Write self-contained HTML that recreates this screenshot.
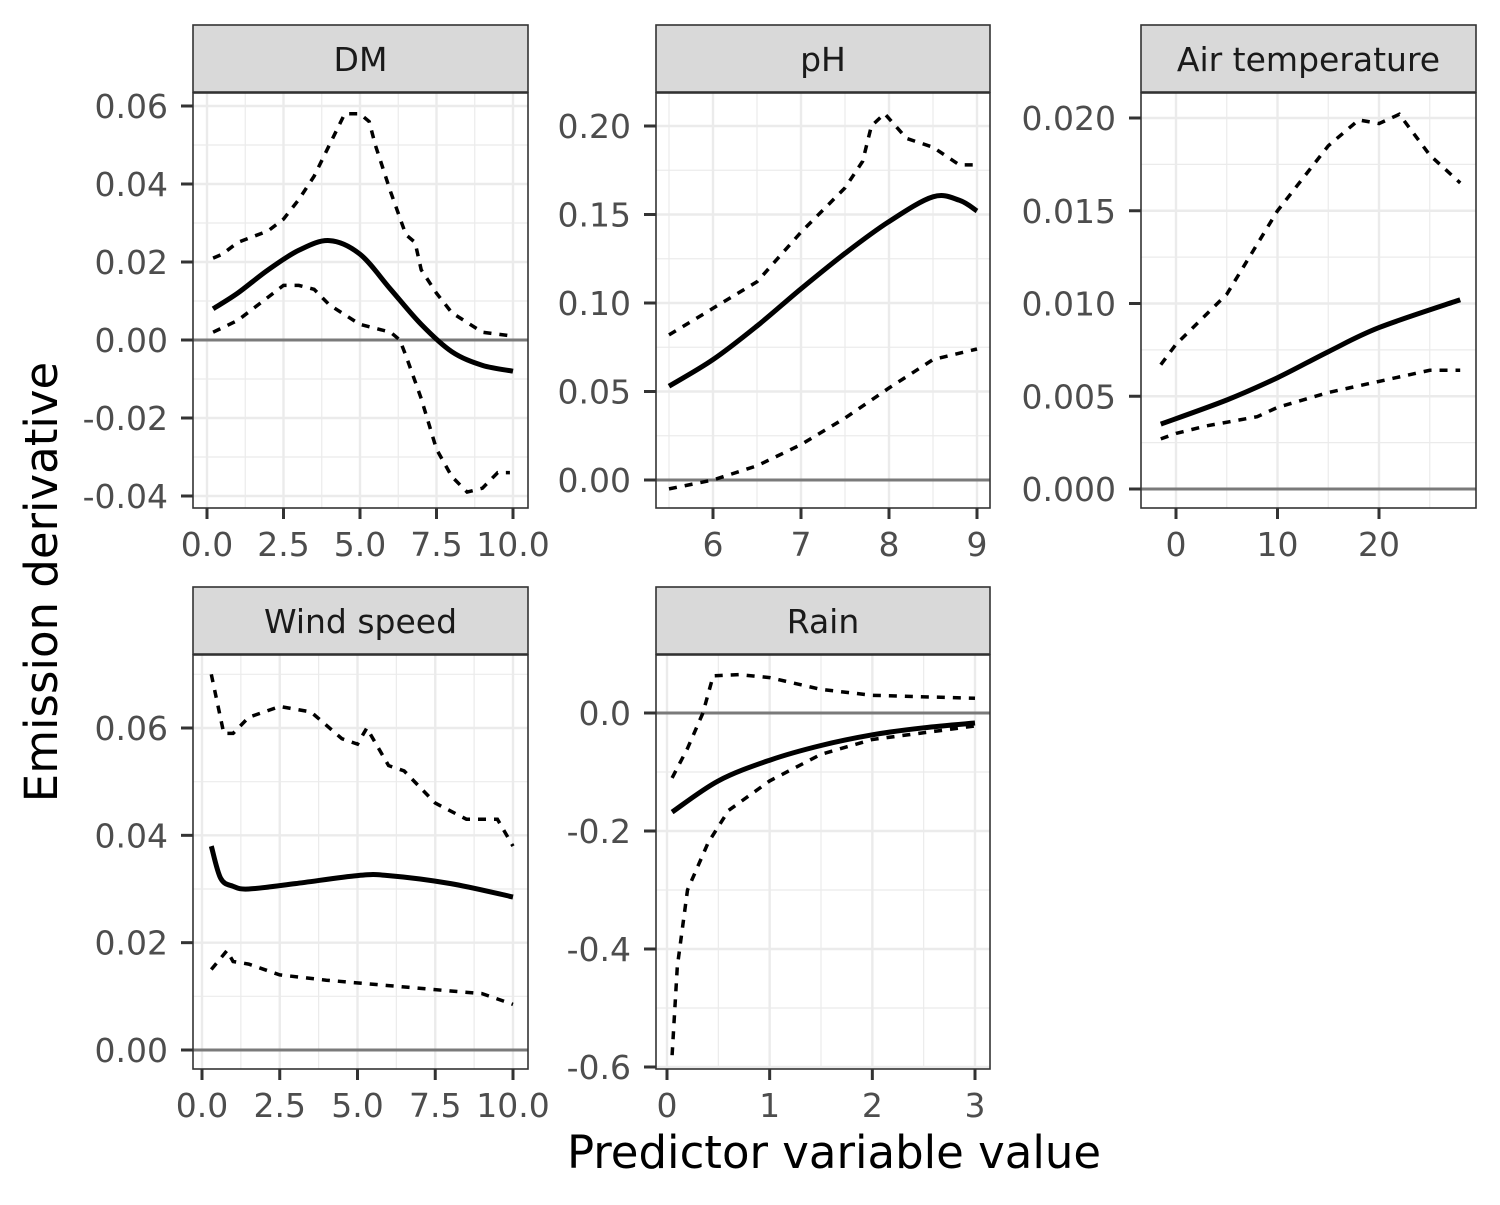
<!DOCTYPE html>
<html><head><meta charset="utf-8"><style>
body{margin:0;background:#fff;}
svg text{font-family:"DejaVu Sans","Liberation Sans",sans-serif;}
</style></head><body>
<svg id="c" width="1500" height="1200" xmlns="http://www.w3.org/2000/svg">
<rect width="1500" height="1200" fill="#fff"/>
<text x="834" y="1168" font-size="45" text-anchor="middle" fill="#000">Predictor variable value</text>
<text x="57" y="582" font-size="45" text-anchor="middle" fill="#000" transform="rotate(-90 57 582)">Emission derivative</text>
</svg>
<script>
// DM
const dmSolidX=[0.2,1,2,3,4,5,6,7,8,9,10];
const dmSolidY=[0.008,0.012,0.018,0.023,0.0255,0.022,0.013,0.004,-0.003,-0.0065,-0.008];
const dmUpX=[0.2,0.5,1,2,2.5,3,3.5,4,4.5,5,5.3,5.5,6,6.5,6.8,7,7.5,8,9,10];
const dmUpY=[0.021,0.022,0.025,0.028,0.031,0.036,0.042,0.050,0.058,0.058,0.056,0.050,0.038,0.027,0.025,0.018,0.012,0.007,0.002,0.001];
const dmLoX=[0.2,1,2,2.5,3,3.5,4,5,5.5,6,6.3,6.5,7,7.5,8,8.5,9,9.5,9.9];
const dmLoY=[0.002,0.005,0.011,0.014,0.014,0.013,0.009,0.004,0.003,0.002,0,-0.004,-0.015,-0.028,-0.035,-0.039,-0.038,-0.034,-0.034];
// pH
const phSolidX=[5.5,6,6.5,7,7.5,8,8.5,8.8,9];
const phSolidY=[0.053,0.068,0.087,0.108,0.128,0.146,0.160,0.158,0.152];
const phUpX=[5.5,6,6.5,7,7.5,7.7,7.8,7.95,8.2,8.5,8.8,9];
const phUpY=[0.082,0.097,0.112,0.140,0.165,0.18,0.2,0.207,0.193,0.188,0.178,0.178];
const phLoX=[5.5,6,6.5,7,7.5,8,8.5,9];
const phLoY=[-0.005,0,0.008,0.02,0.035,0.052,0.068,0.074];
// Air temperature
const atSolidX=[-1.5,5,10,15,20,28];
const atSolidY=[0.0035,0.0048,0.006,0.0074,0.0087,0.0102];
const atUpX=[-1.5,0,5,10,15,18,20,22,25,28];
const atUpY=[0.0067,0.0078,0.0105,0.015,0.0185,0.0199,0.0197,0.0202,0.018,0.0165];
const atLoX=[-1.5,0,3,8,10,15,20,25,28];
const atLoY=[0.0027,0.003,0.0034,0.0039,0.0044,0.0052,0.0058,0.0064,0.0064];
// Wind speed
const wsSolidX=[0.3,0.6,1,1.5,3,5,6,8,10];
const wsSolidY=[0.038,0.032,0.0305,0.030,0.031,0.0325,0.0325,0.031,0.0285];
const wsUpX=[0.3,0.7,1,1.5,2.5,3.5,4.5,5,5.3,6,6.5,7.5,8.5,9.5,10];
const wsUpY=[0.070,0.059,0.059,0.062,0.064,0.063,0.058,0.057,0.060,0.053,0.052,0.046,0.043,0.043,0.038];
const wsLoX=[0.3,0.8,1,1.5,2.5,4,6,8,9,10];
const wsLoY=[0.015,0.0185,0.0165,0.016,0.014,0.013,0.012,0.011,0.0105,0.0085];
// Rain
const rnSolidX=[0.05,0.5,1,1.5,2,2.5,3];
const rnSolidY=[-0.168,-0.115,-0.08,-0.055,-0.037,-0.025,-0.017];
const rnUpX=[0.05,0.2,0.35,0.45,0.7,1,1.5,2,3];
const rnUpY=[-0.11,-0.06,0.0,0.063,0.065,0.06,0.04,0.03,0.025];
const rnLoX=[0.05,0.1,0.2,0.4,0.6,1,1.5,2,3];
const rnLoY=[-0.58,-0.43,-0.3,-0.22,-0.165,-0.115,-0.07,-0.045,-0.022];
// ticks
const dmXTicks=[0,2.5,5,7.5,10], dmXLabels=["0.0","2.5","5.0","7.5","10.0"];
const dmYTicks=[-0.04,-0.02,0,0.02,0.04,0.06], dmYLabels=["-0.04","-0.02","0.00","0.02","0.04","0.06"];
const phXTicks=[6,7,8,9], phXLabels=["6","7","8","9"];
const phYTicks=[0,0.05,0.1,0.15,0.2], phYLabels=["0.00","0.05","0.10","0.15","0.20"];
const atXTicks=[0,10,20], atXLabels=["0","10","20"];
const atYTicks=[0,0.005,0.01,0.015,0.02], atYLabels=["0.000","0.005","0.010","0.015","0.020"];
const wsXTicks=[0,2.5,5,7.5,10], wsXLabels=["0.0","2.5","5.0","7.5","10.0"];
const wsYTicks=[0,0.02,0.04,0.06], wsYLabels=["0.00","0.02","0.04","0.06"];
const rnXTicks=[0,1,2,3], rnXLabels=["0","1","2","3"];
const rnYTicks=[-0.6,-0.4,-0.2,0], rnYLabels=["-0.6","-0.4","-0.2","0.0"];

const svg=document.getElementById('c');
const NS='http://www.w3.org/2000/svg';
function mk(tag,attrs){const e=document.createElementNS(NS,tag);for(const k in attrs)e.setAttribute(k,attrs[k]);svg.appendChild(e);return e;}
function smoothPath(P){
  let d='M'+P[0][0].toFixed(1)+','+P[0][1].toFixed(1);
  for(let i=0;i<P.length-1;i++){
    const p0=P[i-1]||P[i],p1=P[i],p2=P[i+1],p3=P[i+2]||P[i+1];
    const c1=[p1[0]+(p2[0]-p0[0])/6,p1[1]+(p2[1]-p0[1])/6];
    const c2=[p2[0]-(p3[0]-p1[0])/6,p2[1]-(p3[1]-p1[1])/6];
    d+=' C'+c1[0].toFixed(1)+','+c1[1].toFixed(1)+' '+c2[0].toFixed(1)+','+c2[1].toFixed(1)+' '+p2[0].toFixed(1)+','+p2[1].toFixed(1);
  }
  return d;
}

function panel(p){
  const {name,title,x0,x1,y0,y1,sy,xa,xb,pa,pb,ya,yb,qa,qb,xt,xl,yt,yl,series}=p;
  const X=v=>pa+(v-xa)*(pb-pa)/(xb-xa);
  const Y=v=>qa+(v-ya)*(qb-qa)/(yb-ya);
  const bg=mk('rect',{x:x0,y:y0,width:x1-x0,height:y1-y0,fill:'#fff'});
  
  
  const mids=(t)=>{const r=[];const d=t[1]-t[0];r.push(t[0]-d/2);for(let i=0;i<t.length;i++)r.push(t[i]+d/2);return r;};
  mids(xt).forEach(v=>{const x=X(v);if(x>x0&&x<x1)mk('line',{x1:x,x2:x,y1:y0,y2:y1,stroke:'#ebebeb','stroke-width':1.2});});
  mids(yt).forEach(v=>{const y=Y(v);if(y>y0&&y<y1)mk('line',{x1:x0,x2:x1,y1:y,y2:y,stroke:'#ebebeb','stroke-width':1.2});});
  xt.forEach((v,i)=>{const x=X(v);mk('line',{x1:x,x2:x,y1:y0,y2:y1,stroke:'#ebebeb','stroke-width':2.4});
    mk('line',{x1:x,x2:x,y1:y1,y2:y1+11,stroke:'#333','stroke-width':3});
    const t=mk('text',{x:x,y:y1+48,'font-size':33,'text-anchor':'middle',fill:'#4d4d4d'});t.textContent=xl[i];
    
    });
  yt.forEach((v,i)=>{const y=Y(v);mk('line',{x1:x0,x2:x1,y1:y,y2:y,stroke:'#ebebeb','stroke-width':2.4});
    mk('line',{x1:x0-12,x2:x0,y1:y,y2:y,stroke:'#333','stroke-width':3});
    const t=mk('text',{x:x0-25,y:y+12,'font-size':33,'text-anchor':'end',fill:'#4d4d4d'});t.textContent=yl[i];
    
    });
  mk('line',{x1:x0,x2:x1,y1:Y(0),y2:Y(0),stroke:'#7a7a7a','stroke-width':3});
  series.forEach((s,k)=>{
    const P=s.x.map((v,i)=>[X(v),Y(s.y[i])]);
    let l;
    if(s.dash){l=mk('polyline',{points:P.map(q=>q[0].toFixed(1)+','+q[1].toFixed(1)).join(' '),fill:'none',stroke:'#000','stroke-width':3.5,'stroke-dasharray':'8,8'});}
    else{l=mk('path',{d:smoothPath(P),fill:'none',stroke:'#000','stroke-width':5});}
    
    });
  mk('rect',{x:x0,y:y0,width:x1-x0,height:y1-y0,fill:'none',stroke:'#333','stroke-width':1.6});
  const st=mk('rect',{x:x0,y:sy,width:x1-x0,height:y0-sy-1,fill:'#d9d9d9',stroke:'#333','stroke-width':1.6});
  
  
  const tt=mk('text',{x:(x0+x1)/2,y:sy+46,'font-size':33,'text-anchor':'middle',fill:'#1a1a1a'});tt.textContent=title;
  
  
}
panel({name:'dm',title:'DM',x0:193,x1:528,y0:93,y1:508,sy:25,xa:0,xb:10,pa:207,pb:513,ya:0,yb:0.06,qa:340,qb:106,xt:dmXTicks,xl:dmXLabels,yt:dmYTicks,yl:dmYLabels,
 series:[{x:dmSolidX,y:dmSolidY},{x:dmUpX,y:dmUpY,dash:1},{x:dmLoX,y:dmLoY,dash:1}]});
panel({name:'ph',title:'pH',x0:656,x1:990,y0:93,y1:508,sy:25,xa:6,xb:9,pa:713,pb:977,ya:0,yb:0.2,qa:480,qb:126,xt:phXTicks,xl:phXLabels,yt:phYTicks,yl:phYLabels,
 series:[{x:phSolidX,y:phSolidY},{x:phUpX,y:phUpY,dash:1},{x:phLoX,y:phLoY,dash:1}]});
panel({name:'air-temp',title:'Air temperature',x0:1141,x1:1476,y0:93,y1:508,sy:25,xa:0,xb:20,pa:1176,pb:1379,ya:0,yb:0.02,qa:489,qb:118,xt:atXTicks,xl:atXLabels,yt:atYTicks,yl:atYLabels,
 series:[{x:atSolidX,y:atSolidY},{x:atUpX,y:atUpY,dash:1},{x:atLoX,y:atLoY,dash:1}]});
panel({name:'wind',title:'Wind speed',x0:193,x1:528,y0:655,y1:1069,sy:587,xa:0,xb:10,pa:202,pb:513,ya:0,yb:0.06,qa:1050,qb:728,xt:wsXTicks,xl:wsXLabels,yt:wsYTicks,yl:wsYLabels,
 series:[{x:wsSolidX,y:wsSolidY},{x:wsUpX,y:wsUpY,dash:1},{x:wsLoX,y:wsLoY,dash:1}]});
panel({name:'rain',title:'Rain',x0:656,x1:990,y0:655,y1:1069,sy:587,xa:0,xb:3,pa:667,pb:975,ya:0,yb:-0.6,qa:713,qb:1067,xt:rnXTicks,xl:rnXLabels,yt:rnYTicks,yl:rnYLabels,
 series:[{x:rnSolidX,y:rnSolidY},{x:rnUpX,y:rnUpY,dash:1},{x:rnLoX,y:rnLoY,dash:1}]});
</script>
</body></html>
